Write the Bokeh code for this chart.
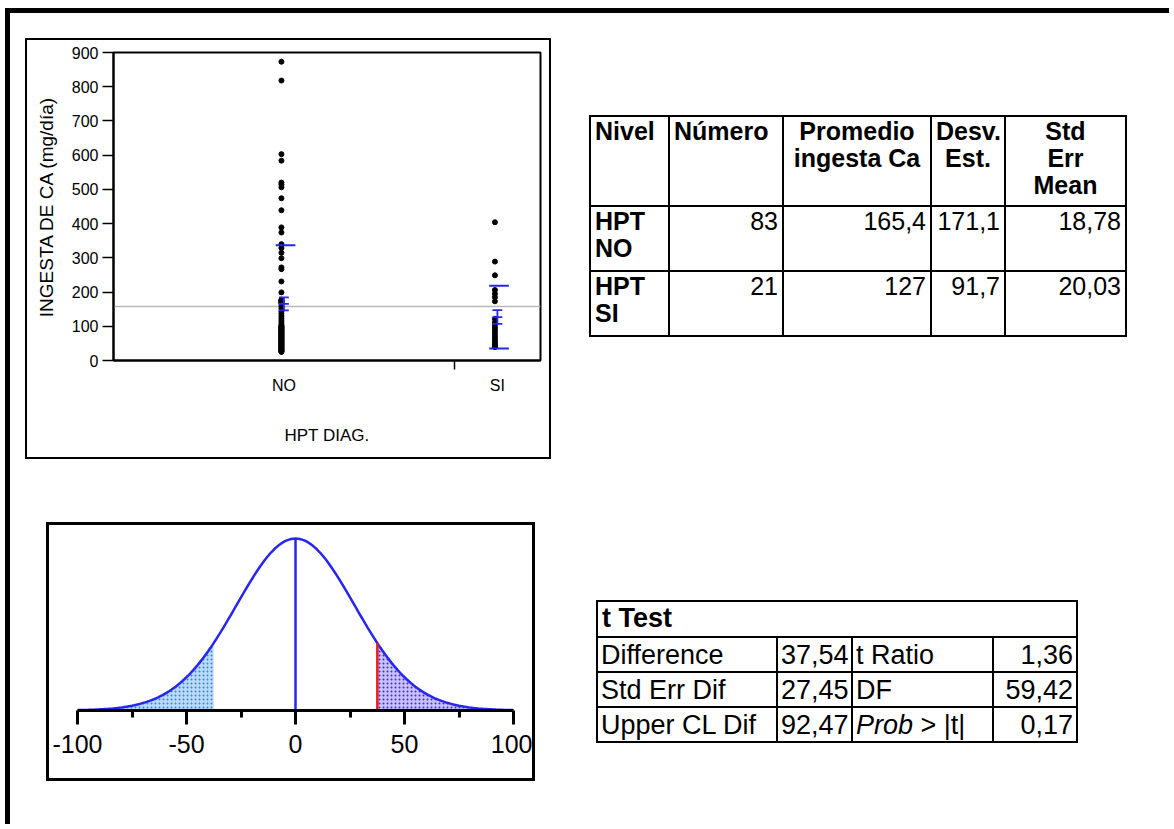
import math
import html as htmlmod
from bokeh.plotting import figure
from bokeh.models import ColumnDataSource, FixedTicker, Span, Arrow, Div, Range1d
from bokeh.layouts import column, row
from bokeh.embed import file_html
from bokeh.resources import INLINE

FONT = "Liberation Sans"
BLUE = "#2626ee"

# ---------------- data ----------------
groups = ["NO", "SI"]
group_n = [83, 21]
ingesta_no = [873, 818, 603, 584, 520, 514, 506, 474, 439, 389, 374, 340, 329, 315,
              299, 272, 267, 231, 199,
              178, 176, 174, 172, 170, 168,
              165, 158, 151, 144, 137, 130, 124, 118, 112, 106,
              102, 100, 99, 97, 95, 94, 92, 90, 89, 87,
              85, 84, 82, 80, 79, 77, 75, 74, 72, 70,
              69, 67, 65, 64, 62, 60, 59, 57, 55, 54,
              52, 50, 49, 47, 45, 44, 42, 40, 39, 37,
              35, 34, 32, 30, 29, 27, 26, 25]
ingesta_si = [404, 289, 249, 206, 195, 185, 173,
              122, 112, 103, 95, 88, 80, 72, 65, 58, 52, 47, 43, 41, 39]
y_ticks = [0, 100, 200, 300, 400, 500, 600, 700, 800, 900]
x_title = "HPT DIAG."
y_title = "INGESTA DE CA (mg/día)"

table_headers = [["Nivel"], ["Número"], ["Promedio", "ingesta Ca"], ["Desv.", "Est."], ["Std", "Err", "Mean"]]
nivel = [["HPT", "NO"], ["HPT", "SI"]]
numero = [83, 21]
promedio = [165.4, 127.0]
desv_est = [171.1, 91.7]
std_err_mean = [18.78, 20.03]

ttest_title = "t Test"
ttest_labels = ["Difference", "Std Err Dif", "Upper CL Dif"]
ttest_values = [37.54, 27.45, 92.47]
ttest_labels2 = ["t Ratio", "DF", "Prob > |t|"]
ttest_values2 = [1.36, 59.42, 0.17]

dist_ticks = [-100, -50, 0, 50, 100]
dist_minor = [-75, -25, 25, 75]


def fmt(v):
    return f"{v:g}".replace(".", ",")


# ---------------- scatter (one-way) ----------------
total_n = sum(group_n)
centers = []
acc = 0
for n in group_n:
    centers.append(acc + n / 2)
    acc += n
separators = [sum(group_n[:i + 1]) for i in range(len(group_n) - 1)]

xs, ys = [], []
for c, vals in zip(centers, [ingesta_no, ingesta_si]):
    xs += [c - 0.6] * len(vals)
    ys += vals

p1 = figure(width=522, height=417, x_range=Range1d(0, total_n), y_range=Range1d(0, 900),
            output_backend="svg", toolbar_location=None,
            min_border_left=86, min_border_right=9, min_border_top=12, min_border_bottom=97)
p1.outline_line_color = "black"
p1.outline_line_width = 2
p1.grid.visible = False
p1.background_fill_color = "white"
p1.border_fill_color = "white"

grand_mean = sum(n * m for n, m in zip(group_n, promedio)) / total_n
p1.add_layout(Span(location=grand_mean, dimension="width", line_color="#b8b8b8",
                   line_width=1.5, level="underlay"))

p1.scatter(xs, ys, size=5, color="black")

# std dev lines (mean +/- sd)
sd_src = ColumnDataSource(dict(
    x0=[c - 2.0 for c in centers] * 2,
    x1=[c + 2.8 for c in centers] * 2,
    y=[m + s for m, s in zip(promedio, desv_est)] + [m - s for m, s in zip(promedio, desv_est)],
))
p1.add_layout(Arrow(end=None, source=sd_src, x_start="x0", y_start="y", x_end="x1", y_end="y",
                    line_color=BLUE, line_width=2, level="overlay"))

# mean +/- std err bars
ev = dict(x0=[], y0=[], x1=[], y1=[])
for c, m, se in zip(centers, promedio, std_err_mean):
    ev["x0"].append(c); ev["x1"].append(c); ev["y0"].append(m - se); ev["y1"].append(m + se)
    for yy in (m - se, m, m + se):
        ev["x0"].append(c - 1.2); ev["x1"].append(c + 1.2); ev["y0"].append(yy); ev["y1"].append(yy)
p1.segment(x0="x0", y0="y0", x1="x1", y1="y1", source=ColumnDataSource(ev),
           line_color=BLUE, line_width=1.8)

xa = p1.xaxis[0]
xa.ticker = FixedTicker(ticks=centers, minor_ticks=separators)
xa.major_label_overrides = {c: g for c, g in zip(centers, groups)}
xa.major_tick_line_color = None
xa.major_tick_out = 0
xa.major_tick_in = 0
xa.minor_tick_in = 0
xa.minor_tick_out = 9
xa.minor_tick_line_color = "black"
xa.minor_tick_line_width = 1.5
xa.axis_line_width = 2
xa.major_label_standoff = 7
xa.major_label_text_font = FONT
xa.major_label_text_font_size = "16px"
xa.major_label_text_color = "black"
xa.axis_label = x_title
xa.axis_label_text_font = FONT
xa.axis_label_text_font_size = "17px"
xa.axis_label_text_font_style = "normal"
xa.axis_label_text_color = "black"
xa.axis_label_standoff = 29

ya = p1.yaxis[0]
ya.ticker = FixedTicker(ticks=y_ticks, minor_ticks=[])
ya.major_tick_out = 11
ya.major_tick_in = 0
ya.major_tick_line_width = 1.5
ya.axis_line_width = 2
ya.major_label_standoff = 4
ya.major_label_text_font = FONT
ya.major_label_text_font_size = "16px"
ya.major_label_text_color = "black"
ya.axis_label = y_title
ya.axis_label_text_font = FONT
ya.axis_label_text_font_size = "19px"
ya.axis_label_text_font_style = "normal"
ya.axis_label_text_color = "black"
ya.axis_label_standoff = 12

# ---------------- t distribution ----------------
diff = ttest_values[0]
se_d = ttest_values[1]
nu = ttest_values2[1]
cnorm = math.exp(math.lgamma((nu + 1) / 2) - math.lgamma(nu / 2)) / math.sqrt(nu * math.pi) / se_d


def tpdf(x):
    t = x / se_d
    return cnorm * (1 + t * t / nu) ** (-(nu + 1) / 2)


xgrid = list(range(dist_ticks[0], dist_ticks[-1] + 1))
curve = [tpdf(x) for x in xgrid]
peak = tpdf(0)
left_x = [x for x in xgrid if x <= -diff] + [-diff]
right_x = [diff] + [x for x in xgrid if x >= diff]

p2 = figure(width=483, height=253, x_range=Range1d(dist_ticks[0], dist_ticks[-1]),
            y_range=Range1d(0, peak * 1.012), output_backend="svg", toolbar_location=None,
            min_border_left=28, min_border_right=19, min_border_top=11, min_border_bottom=68)
p2.outline_line_color = None
p2.grid.visible = False
p2.yaxis.visible = False
p2.varea(x=left_x, y1=[0] * len(left_x), y2=[tpdf(x) for x in left_x],
         fill_color="#bcdaf8", hatch_pattern="dot", hatch_color="#2a88e6",
         hatch_scale=4, hatch_weight=2)
p2.varea(x=right_x, y1=[0] * len(right_x), y2=[tpdf(x) for x in right_x],
         fill_color="#c8c2f8", hatch_pattern="dot", hatch_color="#3a2aee",
         hatch_scale=4, hatch_weight=2)
p2.line(xgrid, curve, line_color=BLUE, line_width=2.5)
p2.segment(x0=[0], y0=[0], x1=[0], y1=[peak], line_color=BLUE, line_width=2.5)
p2.segment(x0=[diff], y0=[0], x1=[diff], y1=[tpdf(diff)], line_color="#f01818", line_width=2.5)

da = p2.xaxis[0]
da.ticker = FixedTicker(ticks=dist_ticks, minor_ticks=dist_minor)
da.major_label_overrides = {t: str(t) for t in dist_ticks}
da.axis_line_width = 3
da.major_tick_line_width = 3
da.minor_tick_line_width = 3
da.major_tick_out = 14
da.major_tick_in = 0
da.minor_tick_out = 7
da.minor_tick_in = 0
da.major_label_standoff = 10
da.major_label_text_font = FONT
da.major_label_text_font_size = "25px"
da.major_label_text_color = "black"

# ---------------- tables ----------------
cell = "border:2px solid #000;padding:1px 4px;vertical-align:top;"
hdr_align = ["left", "left", "center", "center", "center"]
col_w = [79, 114, 148, 74, 121]
t1 = ("<table style=\"border-collapse:collapse;font-family:'Liberation Sans',Arial,sans-serif;"
      "font-size:25px;line-height:27px;color:#000;table-layout:fixed;width:536px\">")
t1 += "<colgroup>" + "".join(f'<col style="width:{w}px">' for w in col_w) + "</colgroup>"
t1 += '<tr style="height:90px">' + "".join(
    f'<th style="{cell}text-align:{a};font-weight:bold">' + "<br>".join(htmlmod.escape(x) for x in h) + "</th>"
    for h, a in zip(table_headers, hdr_align)) + "</tr>"
for i in range(len(nivel)):
    t1 += '<tr style="height:65px">'
    t1 += f'<td style="{cell}text-align:left;font-weight:bold">' + "<br>".join(nivel[i]) + "</td>"
    for v in (numero[i], promedio[i], desv_est[i], std_err_mean[i]):
        t1 += f'<td style="{cell}text-align:right">{fmt(v)}</td>'
    t1 += "</tr>"
t1 += "</table>"

cell2 = "border:2px solid #000;padding:0px 3px;vertical-align:middle;white-space:nowrap;"
col_w2 = [180, 75, 141, 84]
t2 = ("<table style=\"border-collapse:collapse;font-family:'Liberation Sans',Arial,sans-serif;"
      "font-size:27px;line-height:30px;color:#000;table-layout:fixed;width:480px\">")
t2 += "<colgroup>" + "".join(f'<col style="width:{w}px">' for w in col_w2) + "</colgroup>"
t2 += f'<tr style="height:36px"><td colspan="4" style="{cell}font-weight:bold">{htmlmod.escape(ttest_title)}</td></tr>'
for lab, v, lab2, v2 in zip(ttest_labels, ttest_values, ttest_labels2, ttest_values2):
    lab2_html = htmlmod.escape(lab2).replace("Prob", "<i>Prob</i>")
    t2 += '<tr style="height:35px">'
    t2 += f'<td style="{cell2}text-align:left">{htmlmod.escape(lab)}</td>'
    t2 += f'<td style="{cell2}text-align:right">{fmt(v)}</td>'
    t2 += f'<td style="{cell2}text-align:left">{lab2_html}</td>'
    t2 += f'<td style="{cell2}text-align:right">{fmt(v2)}</td>'
    t2 += "</tr>"
t2 += "</table>"

d1 = Div(text=t1, width=540, height=224, margin=(102, 0, 0, 38))
d2 = Div(text=t2, width=484, height=146, margin=(141, 0, 0, 61))

w1 = column(p1, styles={"border": "2px solid black"}, margin=(25, 0, 0, 15))
w2 = column(p2, styles={"border": "3px solid black"}, margin=(63, 0, 0, 36))

row1 = row(w1, d1)
row2 = row(w2, d2)
root = column(row1, row2, width=1164, height=816, margin=(8, 0, 0, 5),
              styles={"border-left": "5px solid black", "border-top": "5px solid black"})

open("out.html", "w").write(file_html(root, INLINE))
